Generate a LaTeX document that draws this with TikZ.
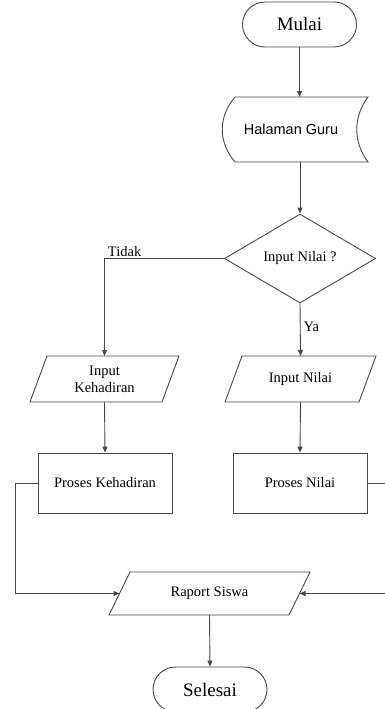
\documentclass[tikz,border=0pt]{standalone}
\usepackage{fontspec}
\setmainfont{Liberation Serif}
\newfontfamily\arialfont{Liberation Sans}
\usetikzlibrary{arrows.meta,shapes.geometric,calc}

\definecolor{linegray}{gray}{0.28}

\tikzset{
  line/.style={draw=linegray, line width=0.9pt},
  flow/.style={line, -{Triangle[length=6pt,width=5pt]}},
  terminal/.style={line, rectangle, rounded corners=22.5pt, minimum width=114pt,
    minimum height=45pt, inner sep=0pt, font=\fontsize{19}{22}\selectfont},
  process/.style={line, rectangle, minimum width=134pt, minimum height=60pt,
    inner sep=0pt, font=\fontsize{14.5}{17}\selectfont},
  decision/.style={line, diamond, minimum width=151pt, minimum height=89pt,
    inner sep=0pt, font=\fontsize{14.5}{17}\selectfont},
  % body of an input/output box; the slanted outline is drawn with \ioframe
  iobody/.style={rectangle, outer sep=0pt, inner sep=0pt, align=center,
    font=\fontsize{14.5}{17}\selectfont},
  lbl/.style={inner sep=1pt, font=\fontsize{14.5}{17}\selectfont},
}

% parallelogram around a node: #1 = node name, #2 = half of the slant
\newcommand\ioframe[2]{%
  \draw[line] ($(#1.north west)+(#2,0)$) -- ($(#1.north east)+(#2,0)$)
    -- ($(#1.south east)-(#2,0)$) -- ($(#1.south west)-(#2,0)$) -- cycle;}

\begin{document}
\begin{tikzpicture}[x=1pt, y=-1pt]
  \useasboundingbox (0,0) rectangle (385,709);

  % start
  \node[terminal] (mulai) at (299.5,24.5) {Mulai};

  % stored page: convex left side, concave right side
  \node[rectangle, outer sep=0pt, inner sep=0pt, minimum width=133pt,
        minimum height=65pt, font=\arialfont\fontsize{14.5}{17}\selectfont]
        (hal) at (301.5,129.5) {\hspace*{-21pt}Halaman Guru};
  \draw[line] (hal.north west) -- (hal.north east)
    .. controls ($(hal.north east)+(-15,20)$) and ($(hal.south east)+(-15,-20)$) .. (hal.south east)
    -- (hal.south west)
    .. controls ($(hal.south west)+(-17,-20)$) and ($(hal.north west)+(-17,20)$) .. (hal.north west);

  % decision
  \node[decision] (dia) at (300,258.5) {Input Nilai ?};

  % inputs
  \node[iobody, minimum width=132pt, minimum height=46pt] (ink) at (104.5,379)
        {Input\\Kehadiran};
  \ioframe{ink}{8.5}
  \node[iobody, minimum width=134pt, minimum height=46pt] (inn) at (300.5,379)
        {Input Nilai};
  \ioframe{inn}{8.5}

  % processes
  \node[process] (pk) at (105,483) {Proses Kehadiran};
  \node[process] (pn) at (300,483) {Proses Nilai};

  % report
  \node[iobody, minimum width=180pt, minimum height=43pt] (rap) at (209.5,593.5)
        {Raport Siswa};
  \ioframe{rap}{10.5}

  % end
  \node[terminal] (selesai) at (210,689.5) {Selesai};

  % connectors
  \draw[flow] (mulai.south) -- (mulai.south |- hal.north);
  \draw[flow] (dia.north |- hal.south) -- (dia.north);
  \draw[flow] (dia.west) -| node[lbl, pos=0.5, anchor=south west, xshift=2pt] {Tidak} (ink.north);
  \draw[flow] (dia.south) -- node[lbl, pos=0.45, anchor=west, xshift=2pt] {Ya} (inn.north);
  \draw[flow] (ink.south) -- (pk.north);
  \draw[flow] (inn.south) -- (pn.north);
  \draw[flow] (pk.west) -- ++(-22,0) |- (rap.west);
  \draw[flow] (pn.east) -- ++(17.5,0) |- (rap.east);
  \draw[flow] (rap.south) -- (selesai.north);
\end{tikzpicture}
\end{document}
